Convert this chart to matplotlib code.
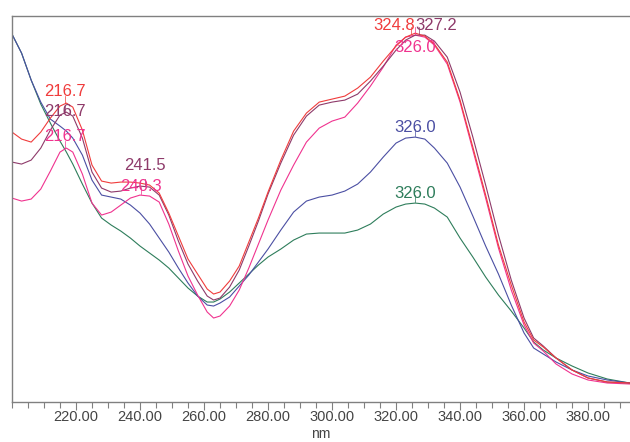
import numpy as np
import matplotlib
matplotlib.use("Agg")
import matplotlib.pyplot as plt
from matplotlib.ticker import FixedLocator, MultipleLocator, FormatStrFormatter

plt.rcParams['font.family'] = ['Liberation Sans', 'DejaVu Sans']

# wavelength grid (nm)
nm = [200, 203, 206, 209, 212, 215, 217, 219, 222, 225, 228, 231, 234, 237, 240,
      243, 246, 249, 252, 255, 258, 261, 263, 265, 268, 271, 274, 277, 280, 284,
      288, 292, 296, 300, 304, 308, 312, 316, 320, 323, 326, 329, 332, 336, 340,
      344, 348, 352, 356, 360, 363, 366, 370, 375, 380, 386, 393]

# absorbance (AU)
red = [0.270, 0.263, 0.260, 0.270, 0.284, 0.296, 0.299, 0.295, 0.272, 0.237,
       0.221, 0.219, 0.220, 0.220, 0.219, 0.217, 0.209, 0.189, 0.166, 0.143,
       0.128, 0.113, 0.108, 0.110, 0.121, 0.136, 0.160, 0.184, 0.210, 0.242,
       0.271, 0.289, 0.300, 0.303, 0.306, 0.314, 0.325, 0.341, 0.356, 0.365,
       0.369, 0.366, 0.358, 0.340, 0.302, 0.255, 0.207, 0.157, 0.117, 0.080,
       0.062, 0.055, 0.044, 0.032, 0.024, 0.020, 0.019]
maroon = [0.240, 0.238, 0.242, 0.254, 0.272, 0.287, 0.290, 0.286, 0.264, 0.230,
          0.214, 0.210, 0.211, 0.214, 0.216, 0.215, 0.207, 0.187, 0.161, 0.138,
          0.121, 0.106, 0.102, 0.104, 0.115, 0.132, 0.156, 0.181, 0.208, 0.239,
          0.267, 0.286, 0.297, 0.300, 0.302, 0.308, 0.321, 0.336, 0.352, 0.362,
          0.367, 0.367, 0.361, 0.345, 0.310, 0.265, 0.217, 0.167, 0.122, 0.084,
          0.064, 0.056, 0.044, 0.032, 0.024, 0.020, 0.019]
pink = [0.204, 0.201, 0.203, 0.213, 0.231, 0.250, 0.254, 0.250, 0.228, 0.199,
        0.187, 0.190, 0.197, 0.204, 0.207, 0.206, 0.200, 0.178, 0.151, 0.126,
        0.107, 0.090, 0.084, 0.086, 0.096, 0.112, 0.134, 0.158, 0.182, 0.212,
        0.237, 0.260, 0.274, 0.281, 0.285, 0.299, 0.316, 0.335, 0.357, 0.365,
        0.367, 0.365, 0.357, 0.338, 0.300, 0.252, 0.204, 0.154, 0.112, 0.077,
        0.059, 0.051, 0.038, 0.028, 0.022, 0.019, 0.018]
blue = [0.368, 0.349, 0.322, 0.300, 0.283, 0.276, 0.271, 0.264, 0.247, 0.222,
        0.207, 0.205, 0.203, 0.197, 0.189, 0.178, 0.164, 0.150, 0.134, 0.119,
        0.106, 0.097, 0.096, 0.099, 0.105, 0.116, 0.127, 0.140, 0.153, 0.172,
        0.190, 0.201, 0.205, 0.207, 0.211, 0.218, 0.230, 0.245, 0.259, 0.264,
        0.265, 0.263, 0.254, 0.239, 0.215, 0.186, 0.156, 0.128, 0.097, 0.069,
        0.054, 0.048, 0.040, 0.032, 0.026, 0.022, 0.019]
green = [0.368, 0.349, 0.322, 0.298, 0.279, 0.261, 0.250, 0.238, 0.218, 0.199,
         0.184, 0.177, 0.171, 0.164, 0.156, 0.149, 0.142, 0.134, 0.124, 0.114,
         0.106, 0.100, 0.100, 0.103, 0.110, 0.119, 0.128, 0.137, 0.145, 0.153,
         0.162, 0.168, 0.169, 0.169, 0.169, 0.172, 0.178, 0.188, 0.195, 0.198,
         0.199, 0.198, 0.194, 0.185, 0.164, 0.145, 0.125, 0.107, 0.091, 0.074,
         0.060, 0.052, 0.044, 0.036, 0.029, 0.023, 0.019]

series = [
    (green, '#2e7d5b'),
    (blue, '#4b4fa3'),
    (pink, '#f0338f'),
    (maroon, '#8e3a6a'),
    (red, '#f03c3c'),
]

# peak labels: text, series, colour, label x, label y, alignment
peaks = [
    ('216.7', red, '#f03c3c', 216.7, 0.311, 'center'),
    ('216.7', maroon, '#8e3a6a', 216.7, 0.291, 'center'),
    ('216.7', pink, '#f0338f', 216.7, 0.266, 'center'),
    ('241.5', maroon, '#8e3a6a', 241.5, 0.237, 'center'),
    ('240.3', pink, '#f0338f', 240.3, 0.216, 'center'),
    ('324.8', red, '#f03c3c', 325.9, 0.377, 'right'),
    ('327.2', maroon, '#8e3a6a', 325.9, 0.377, 'left'),
    ('326.0', pink, '#f0338f', 326.0, 0.355, 'center'),
    ('326.0', blue, '#4b4fa3', 326.0, 0.275, 'center'),
    ('326.0', green, '#2e7d5b', 326.0, 0.209, 'center'),
]

fig = plt.figure(figsize=(6.3, 4.42), dpi=100)
ax = fig.add_axes([0.019, 0.0905, 0.981, 0.873])

for ys, c in series:
    ax.plot(nm, ys, color=c, lw=0.8)

for txt, ys, c, px, py, ha in peaks:
    pk = float(txt)
    yc = np.interp(pk, nm, ys)
    ax.plot([pk, pk], [yc + 0.001, yc + 0.008], color=c, lw=0.5)
    ax.text(px, py, txt, color=c, fontsize=12, ha=ha, va='center')

ax.set_xlim(200, 393.1)
ax.set_ylim(0, 0.386)
ax.xaxis.set_major_locator(FixedLocator([220, 240, 260, 280, 300, 320, 340, 360, 380]))
ax.xaxis.set_minor_locator(MultipleLocator(5))
ax.xaxis.set_major_formatter(FormatStrFormatter('%.2f'))
ax.set_yticks([])
ax.tick_params(axis='x', which='major', length=6, width=0.8, color='#808080',
               labelsize=10.5, labelcolor='#444444', pad=0)
ax.tick_params(axis='x', which='minor', length=4, width=0.8, color='#808080')
ax.set_xlabel('nm', fontsize=10, color='#444444', labelpad=2)

for s in ['left', 'top', 'bottom']:
    ax.spines[s].set_color('#808080')
    ax.spines[s].set_linewidth(1.0)
ax.spines['right'].set_visible(False)

fig.savefig('out.png', dpi=100)
